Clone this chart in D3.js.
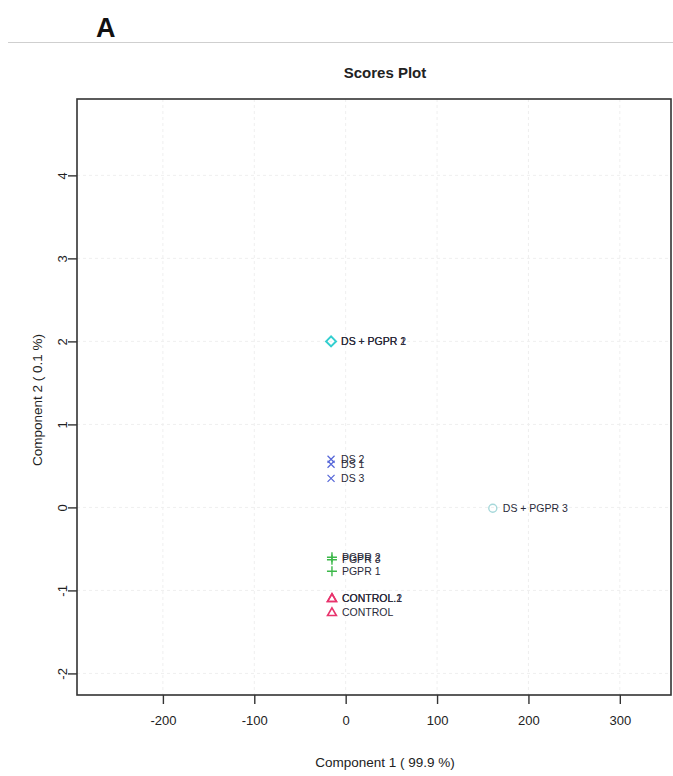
<!DOCTYPE html>
<html lang="en">
  <head>
    <meta charset="UTF-8" />
    <title>Scores Plot</title>
    <style>
      body {
        margin: 0;
        background: #ffffff;
        font-family: "Liberation Sans", Arial, sans-serif;
      }
    </style>
  </head>
  <body>
    <div id="chart"></div>
    <script src="https://d3js.org/d3.v7.min.js"></script>
    <script>
      // sample scores
      const labels = [
        "DS + PGPR 1", "DS + PGPR 2", "DS + PGPR 3",
        "DS 1", "DS 2", "DS  3",
        "PGPR 1", "PGPR 2", "PGPR 3",
        "CONTROL", "CONTROL.1", "CONTROL.2"
      ];
      const groups = [
        "DSPGPR", "DSPGPR", "DSPGPR",
        "DS", "DS", "DS",
        "PGPR", "PGPR", "PGPR",
        "CONTROL", "CONTROL", "CONTROL"
      ];
      const comp1 = [-16, -16, 161, -16, -16, -16, -15, -15, -15, -15, -15, -15];
      const comp2 = [2.0, 2.0, -0.01, 0.52, 0.58, 0.35, -0.77, -0.6, -0.63, -1.26, -1.09, -1.09];
      const hollow = [false, false, true, false, false, false, false, false, false, false, false, false];

      const xTicks = [-200, -100, 0, 100, 200, 300];
      const yTicks = [-2, -1, 0, 1, 2, 3, 4];

      const groupColor = {
        CONTROL: "#e8336c",
        PGPR: "#3cb84a",
        DS: "#5566d8",
        DSPGPR: "#35cfd0"
      };

      const width = 673;
      const height = 776;
      const box = { left: 77, right: 671, top: 99, bottom: 695 };

      const svg = d3
        .select("#chart")
        .append("svg")
        .attr("width", width)
        .attr("height", height);

      // panel letter and rule
      svg.append("text")
        .attr("x", 96)
        .attr("y", 37)
        .attr("font-size", 27)
        .attr("font-weight", "bold")
        .attr("fill", "#111")
        .text("A");
      svg.append("line")
        .attr("x1", 8).attr("x2", width)
        .attr("y1", 42.5).attr("y2", 42.5)
        .attr("stroke", "#cfcfcf")
        .attr("stroke-width", 1.2);

      const x = d3.scaleLinear().domain([-294, 356]).range([box.left, box.right]);
      const y = d3.scaleLinear().domain([-2.26, 4.92]).range([box.bottom, box.top]);

      // faint grid
      svg.append("g")
        .selectAll("line")
        .data(xTicks)
        .join("line")
        .attr("x1", (d) => x(d)).attr("x2", (d) => x(d))
        .attr("y1", box.top).attr("y2", box.bottom)
        .attr("stroke", "#efefef")
        .attr("stroke-dasharray", "3,3");
      svg.append("g")
        .selectAll("line")
        .data(yTicks)
        .join("line")
        .attr("x1", box.left).attr("x2", box.right)
        .attr("y1", (d) => y(d)).attr("y2", (d) => y(d))
        .attr("stroke", "#efefef")
        .attr("stroke-dasharray", "3,3");

      // box
      svg.append("rect")
        .attr("x", box.left)
        .attr("y", box.top)
        .attr("width", box.right - box.left)
        .attr("height", box.bottom - box.top)
        .attr("fill", "none")
        .attr("stroke", "#333")
        .attr("stroke-width", 1.6);

      // axes (plain hyphen minus like the R output)
      const fmt = (d) => String(d);
      const xAxis = svg.append("g")
        .attr("transform", `translate(0,${box.bottom})`)
        .call(d3.axisBottom(x).tickValues(xTicks).tickFormat(fmt).tickSize(9).tickPadding(12));
      const yAxis = svg.append("g")
        .attr("transform", `translate(${box.left},0)`)
        .call(d3.axisLeft(y).tickValues(yTicks).tickFormat(fmt).tickSize(9).tickPadding(6));
      [xAxis, yAxis].forEach((g) => {
        g.select(".domain").remove();
        g.selectAll(".tick line").attr("stroke", "#333").attr("stroke-width", 1.4);
        g.selectAll("text")
          .attr("font-family", "'Liberation Sans', Arial, sans-serif")
          .attr("font-size", 13)
          .attr("fill", "#222");
      });
      yAxis.selectAll(".tick text")
        .attr("transform", "rotate(-90,-15,0)")
        .attr("x", -15)
        .attr("dy", "0.35em")
        .attr("text-anchor", "middle");

      // titles
      svg.append("text")
        .attr("x", 385).attr("y", 78)
        .attr("text-anchor", "middle")
        .attr("font-size", 15)
        .attr("font-weight", "bold")
        .attr("fill", "#222")
        .text("Scores Plot");
      svg.append("text")
        .attr("x", 385).attr("y", 767)
        .attr("text-anchor", "middle")
        .attr("font-size", 13.5)
        .attr("fill", "#222")
        .text("Component 1 ( 99.9 %)");
      svg.append("text")
        .attr("transform", "translate(42,400) rotate(-90)")
        .attr("text-anchor", "middle")
        .attr("font-size", 13.5)
        .attr("fill", "#222")
        .text("Component 2 ( 0.1 %)");

      // points (overlapping labels are overlapped in the original too)
      const idx = d3.range(labels.length);
      const marks = svg.append("g");
      idx.forEach((i) => {
        const px = x(comp1[i]);
        const py = y(comp2[i]);
        const g = groups[i];
        const col = hollow[i] ? "#a6d8da" : groupColor[g];
        const m = marks.append("g").attr("transform", `translate(${px},${py})`);
        if (g === "CONTROL") {
          m.append("path")
            .attr("d", d3.symbol(d3.symbolTriangle, 34)())
            .attr("transform", "translate(0,1)")
            .attr("fill", "none").attr("stroke", col).attr("stroke-width", 1.6);
        } else if (g === "PGPR") {
          m.append("path").attr("d", "M-5,0H5M0,-5V5")
            .attr("stroke", col).attr("stroke-width", 1.4);
        } else if (g === "DS") {
          m.append("path").attr("d", "M-3.5,-3.5L3.5,3.5M-3.5,3.5L3.5,-3.5")
            .attr("stroke", col).attr("stroke-width", 1.2);
        } else if (hollow[i]) {
          m.append("circle").attr("r", 4)
            .attr("fill", "none").attr("stroke", col).attr("stroke-width", 1.4);
        } else {
          m.append("path").attr("d", "M0,-5L5,0L0,5L-5,0Z")
            .attr("fill", "none").attr("stroke", col).attr("stroke-width", 1.6);
        }
        svg.append("text")
          .attr("x", px + 10)
          .attr("y", py)
          .attr("dy", "0.35em")
          .attr("font-size", 10.5)
          .attr("fill", "#2a2a3a")
          .text(labels[i]);
      });
    </script>
  </body>
</html>
